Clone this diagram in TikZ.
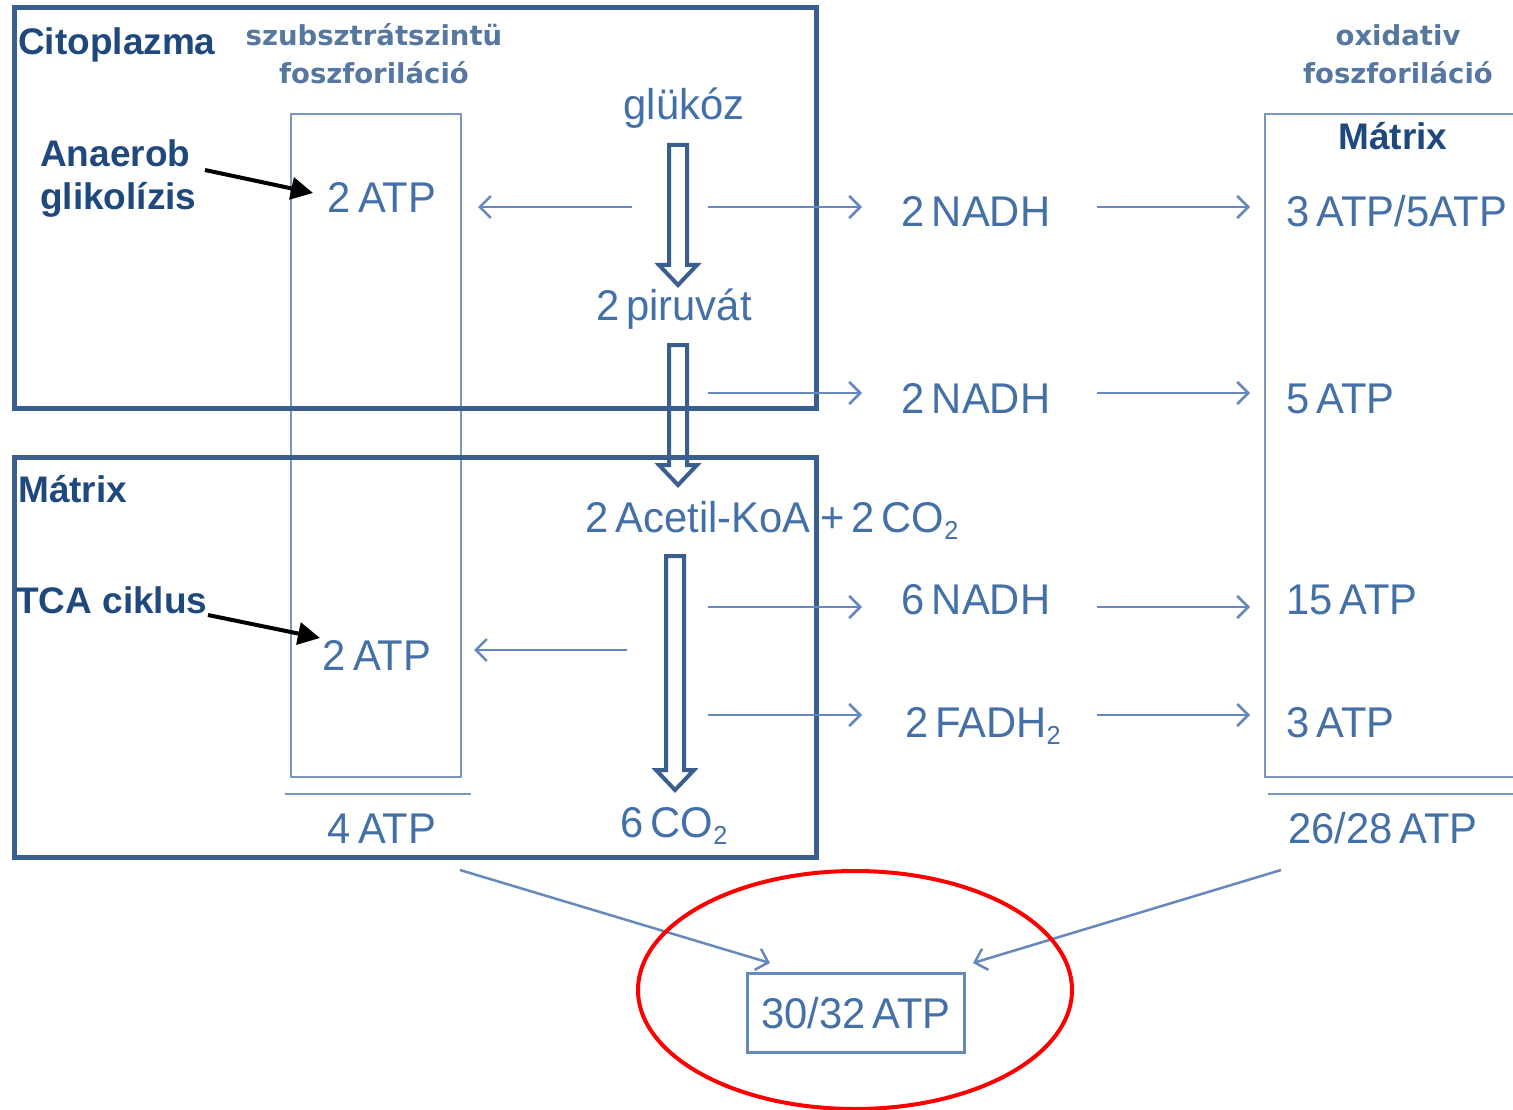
\documentclass[tikz,border=0pt]{standalone}
\usepackage{fontspec}
\setmainfont{Liberation Sans}
\newfontfamily\diagf[FakeStretch=0.97,WordSpace=0.6]{Liberation Sans}
\newfontfamily\headf{DejaVu Sans}
\usetikzlibrary{arrows.meta}
\definecolor{txtblue}{HTML}{4470A8}
\definecolor{lineblue}{HTML}{6589BC}
\definecolor{boxblue}{HTML}{3A5F8E}
\definecolor{lblblue}{HTML}{1F497D}
\definecolor{hdrblue}{HTML}{56779F}
\definecolor{softblue}{HTML}{7896C0}
\newcommand\mysub[1]{\raisebox{-0.35ex}{\fontsize{26}{30}\selectfont #1}}
\newcommand\holarrow[4]{% cx, top, headstart, tip
  \draw[hollow] (#1-9,#2) -- (#1+9,#2) -- (#1+9,#3) -- (#1+19,#3) -- (#1,#4)
    -- (#1-19,#3) -- (#1-9,#3) -- cycle;}
\begin{document}
\begin{tikzpicture}[x=1pt,y=-1pt,
  bigbox/.style={draw=boxblue, line width=5pt},
  lightbox/.style={draw=softblue, line width=2.5pt},
  dtext/.style={text=txtblue, font=\diagf\fontsize{43}{50}\selectfont, inner sep=0pt},
  lbl/.style={text=lblblue, font=\bfseries\fontsize{37}{44}\selectfont, inner sep=0pt},
  hdr/.style={text=hdrblue, font=\headf\bfseries\fontsize{27.5}{33}\selectfont, inner sep=0pt},
  thinarrow/.style={draw=lineblue, line width=2.5pt, -{Straight Barb[length=11pt,width=22pt,line width=2.5pt]}},
  blackarrow/.style={draw=black, line width=4pt, -{Triangle[length=22pt,width=22pt]}},
  hollow/.style={draw=boxblue, line width=4pt, fill=white, line join=miter},
  resbox/.style={draw=lineblue, line width=2.5pt, minimum width=217pt, minimum height=79pt, inner sep=0pt}
]
\useasboundingbox (0,0) rectangle (1513,1110);
\clip (0,0) rectangle (1513,1110);
\fill[white] (0,0) rectangle (1513,1110);

% light boxes and sum lines
\draw[lightbox] (291,114) rectangle (461,777);
\draw[lightbox] (1540,114) -- (1265,114) -- (1265,777) -- (1540,777);
\draw[lightbox] (285,794) -- (471,794);
\draw[lightbox] (1268,794) -- (1540,794);

% hollow arrows
\holarrow{678}{145}{265}{285}
\holarrow{678}{345}{465}{485}
\holarrow{675}{556}{770}{790}

% compartment boxes
\draw[bigbox] (14,8) rectangle (816,408);
\draw[bigbox] (14,457) rectangle (816,857);

% texts
\node[dtext, anchor=base] (gluk) at (684,120) {glükóz};
\node[dtext, anchor=base] (piru) at (674,320) {2 piruvát};
\node[dtext, anchor=base] (acet) at (772,532) {2 Acetil-KoA\hspace{10pt}+ 2 CO\mysub{2}};
\node[dtext, anchor=base] (co6) at (674,837) {6 CO\mysub{2}};
\node[dtext, anchor=base] (atpa) at (382,213) {2 ATP};
\node[dtext, anchor=base] (atpb) at (377,670) {2 ATP};
\node[dtext, anchor=base] (atp4) at (382,843) {4 ATP};
\node[dtext, anchor=base] (nadh1) at (976,227) {2 NADH};
\node[dtext, anchor=base] (nadh2) at (976,413) {2 NADH};
\node[dtext, anchor=base] (nadh6) at (976,614) {6 NADH};
\node[dtext, anchor=base] (fadh) at (983,737) {2 FADH\mysub{2}};
\node[dtext, anchor=base west] (ox1) at (1286,227) {3 ATP/5ATP};
\node[dtext, anchor=base west] (ox2) at (1286,413) {5 ATP};
\node[dtext, anchor=base west] (ox3) at (1286,614) {15 ATP};
\node[dtext, anchor=base west] (ox4) at (1286,737) {3 ATP};
\node[dtext, anchor=base] (atp26) at (1383,843) {26/28 ATP};
\node[dtext, resbox] (res) at (856,1013) {30/32 ATP};

\node[lbl, anchor=base west] (cito) at (18,55) {Citoplazma};
\node[lbl, anchor=base west] (anae) at (40,167) {Anaerob};
\node[lbl, anchor=base west] (glik) at (40,210) {glikolízis};
\node[lbl, anchor=base west] (matl) at (18,502) {Mátrix};
\node[lbl, anchor=base west] (tca) at (16,613) {TCA ciklus};
\node[lbl, anchor=base] (matr) at (1393,150) {Mátrix};

\node[hdr, anchor=base] (h1a) at (374,46) {szubsztrátszintü};
\node[hdr, anchor=base] (h1b) at (374,84) {foszforiláció};
\node[hdr, anchor=base] (h2a) at (1398,46) {oxidativ};
\node[hdr, anchor=base] (h2b) at (1398,84) {foszforiláció};

% connector end points
\coordinate (l1s) at (632,207); \coordinate (l1e) at (478,207);
\coordinate (l2s) at (627,650); \coordinate (l2e) at (474,650);
\coordinate (r1s) at (708,207); \coordinate (r1e) at (862,207);
\coordinate (r2s) at (708,393); \coordinate (r2e) at (862,393);
\coordinate (r3s) at (708,607); \coordinate (r3e) at (862,607);
\coordinate (r4s) at (708,715); \coordinate (r4e) at (862,715);
\coordinate (s1s) at (1097,207); \coordinate (s1e) at (1250,207);
\coordinate (s2s) at (1097,393); \coordinate (s2e) at (1250,393);
\coordinate (s3s) at (1097,607); \coordinate (s3e) at (1250,607);
\coordinate (s4s) at (1097,715); \coordinate (s4e) at (1250,715);
\coordinate (b1s) at (205,170); \coordinate (b1e) at (313,193);
\coordinate (b2s) at (208,615); \coordinate (b2e) at (320,638);
\coordinate (t1s) at (460,870); \coordinate (t1e) at (770,963);
\coordinate (t2s) at (1281,870); \coordinate (t2e) at (973,963);

\foreach \a in {l1,l2,r1,r2,r3,r4,s1,s2,s3,s4,t1,t2}
  \draw[thinarrow] (\a s) -- (\a e);
\draw[blackarrow] (b1s) -- (b1e);
\draw[blackarrow] (b2s) -- (b2e);

% red ellipse
\draw[red, line width=4pt] (855,990) ellipse [x radius=217pt, y radius=119pt];
\end{tikzpicture}
\end{document}
